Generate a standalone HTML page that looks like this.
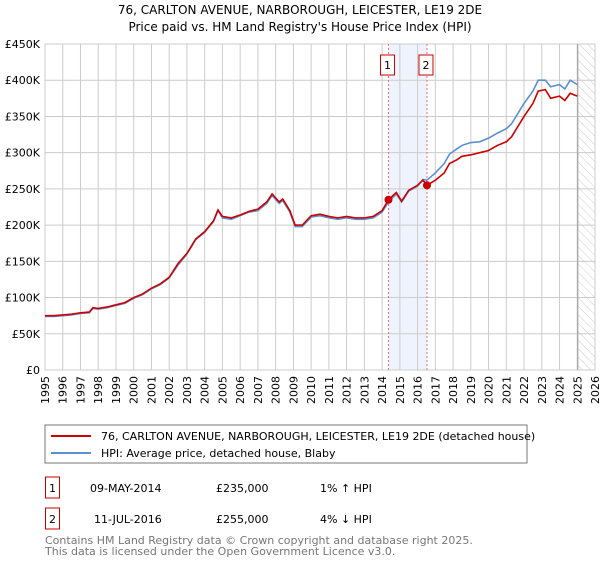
<!DOCTYPE html>
<html><head><meta charset="utf-8"><style>
body{margin:0;background:#fff;font-family:"Liberation Sans","DejaVu Sans",sans-serif;}
svg text{font-family:"DejaVu Sans","Liberation Sans",sans-serif;}
</style></head><body>
<svg id="c" width="600" height="560" xmlns="http://www.w3.org/2000/svg">
<defs><pattern id="hatch" width="6" height="6" patternUnits="userSpaceOnUse" patternTransform="rotate(-45)"><line x1="0" y1="0" x2="0" y2="6" stroke="#ccc" stroke-width="1"/></pattern></defs>
<text x="300" y="14" text-anchor="middle" font-size="12" fill="#000">76, CARLTON AVENUE, NARBOROUGH, LEICESTER, LE19 2DE</text>
<text x="300" y="31" text-anchor="middle" font-size="12" fill="#000">Price paid vs. HM Land Registry's House Price Index (HPI)</text>
<g id="grid"></g><g id="marks"></g><g id="axes"></g>
<rect x="45" y="425" width="482" height="38" fill="#fff" stroke="#777"/>
<line x1="51" y1="436" x2="91" y2="436" stroke="#cc0000" stroke-width="2"/>
<text x="101" y="440" font-size="11">76, CARLTON AVENUE, NARBOROUGH, LEICESTER, LE19 2DE (detached house)</text>
<line x1="51" y1="453" x2="91" y2="453" stroke="#5b8fd4" stroke-width="2"/>
<text x="101" y="457" font-size="11">HPI: Average price, detached house, Blaby</text>
<g font-size="11" fill="#000">
<rect x="45.5" y="477" width="14" height="21" fill="none" stroke="#cc0000"/>
<text x="52.5" y="492" text-anchor="middle">1</text>
<text x="90" y="492">09-MAY-2014</text>
<text x="216" y="492">£235,000</text>
<text x="320" y="492">1% ↑ HPI</text>
<rect x="45.5" y="508" width="14" height="21" fill="none" stroke="#cc0000"/>
<text x="52.5" y="523" text-anchor="middle">2</text>
<text x="94" y="523">11-JUL-2016</text>
<text x="216" y="523">£255,000</text>
<text x="320" y="523">4% ↓ HPI</text>
</g>
<text x="45" y="544" font-size="11" fill="#777">Contains HM Land Registry data © Crown copyright and database right 2025.</text>
<text x="45" y="555" font-size="11" fill="#777">This data is licensed under the Open Government Licence v3.0.</text>
</svg>
<script>
const yTicks=[0,50000,100000,150000,200000,250000,300000,350000,400000,450000];
const yTickLabels=["£0","£50K","£100K","£150K","£200K","£250K","£300K","£350K","£400K","£450K"];
const years=[1995,1996,1997,1998,1999,2000,2001,2002,2003,2004,2005,2006,2007,2008,2009,2010,2011,2012,2013,2014,2015,2016,2017,2018,2019,2020,2021,2022,2023,2024,2025,2026];
const hpiT=[1995,1995.5,1996,1996.5,1997,1997.5,1997.7,1998,1998.5,1999,1999.5,2000,2000.5,2001,2001.5,2002,2002.5,2003,2003.5,2004,2004.5,2004.75,2005,2005.5,2006,2006.5,2007,2007.5,2007.8,2008.2,2008.4,2008.8,2009.1,2009.5,2010,2010.5,2011,2011.5,2012,2012.5,2013,2013.5,2014,2014.36,2014.8,2015.1,2015.5,2016,2016.3,2016.53,2017,2017.5,2017.8,2018.2,2018.5,2019,2019.5,2020,2020.5,2021,2021.3,2021.5,2022,2022.5,2022.8,2023.2,2023.5,2024,2024.3,2024.6,2025];
const hpiV=[74,74,75,76,78,79,85,84,86,89,92,99,104,112,118,127,145,160,180,190,205,220,210,208,213,218,220,230,241,230,234,218,198,198,211,213,210,208,210,208,208,210,218,232,243,232,247,254,263,262,272,285,298,305,310,314,315,320,327,333,340,348,368,385,400,400,391,394,388,400,394];
const propT=[1995,1995.5,1996,1996.5,1997,1997.5,1997.7,1998,1998.5,1999,1999.5,2000,2000.5,2001,2001.5,2002,2002.5,2003,2003.5,2004,2004.5,2004.75,2005,2005.5,2006,2006.5,2007,2007.5,2007.8,2008.2,2008.4,2008.8,2009.1,2009.5,2010,2010.5,2011,2011.5,2012,2012.5,2013,2013.5,2014,2014.36,2014.8,2015.1,2015.5,2016,2016.3,2016.53,2017,2017.5,2017.8,2018.2,2018.5,2019,2019.5,2020,2020.5,2021,2021.3,2021.5,2022,2022.5,2022.8,2023.2,2023.5,2024,2024.3,2024.6,2025];
const propV=[75,75,76,77,79,80,86,85,87,90,93,100,105,113,119,128,147,161,181,191,206,221,212,210,214,219,222,232,243,232,236,220,200,200,213,215,212,210,212,210,210,212,220,235,245,233,248,255,262,255,262,272,285,290,295,297,300,303,310,315,322,330,350,368,385,387,375,378,372,382,378];
const saleT=[2014.36,2016.53];
const saleV=[235000,255000];
const X0=45,X1=595,Y0=370,Y1=44;
const sx=t=>X0+(t-1995)/(2026-1995)*(X1-X0);
const sy=v=>Y0-v/450000*(Y0-Y1);
const NS="http://www.w3.org/2000/svg";
function mk(tag,attrs,parent){const e=document.createElementNS(NS,tag);for(const k in attrs)e.setAttribute(k,attrs[k]);document.getElementById(parent).appendChild(e);return e;}
let e;
e=mk('rect',{x:sx(saleT[0]),y:Y1,width:sx(saleT[1])-sx(saleT[0]),height:Y0-Y1,fill:'#eef3fd'},'grid');


e=mk('rect',{x:sx(2025.03),y:Y1,width:X1-sx(2025.03),height:Y0-Y1,fill:'url(#hatch)'},'grid');


years.forEach((y,i)=>{
 e=mk('line',{x1:sx(y),x2:sx(y),y1:Y1,y2:Y0,stroke:'#ccc'},'grid');
 
 
 e=mk('text',{x:0,y:0,'font-size':11,'text-anchor':'end',transform:`translate(${sx(y)+4},${Y0+6}) rotate(-90)`},'axes');
 e.textContent=y;
 
 
});
yTicks.forEach((v,i)=>{
 e=mk('line',{x1:X0,x2:X1,y1:sy(v),y2:sy(v),stroke:'#ccc'},'grid');
 
 
 e=mk('text',{x:40,y:sy(v)+4,'font-size':11,'text-anchor':'end'},'axes');
 e.textContent=yTickLabels[i];
 
 
});
e=mk('line',{x1:sx(2025.03),x2:sx(2025.03),y1:Y1,y2:Y0,stroke:'#999'},'grid');


saleT.forEach((t,i)=>{
 e=mk('line',{x1:sx(t),x2:sx(t),y1:Y1,y2:Y0,stroke:'#f07070','stroke-dasharray':'2,2'},'grid');
 
 
 e=mk('rect',{x:sx(t)-8,y:55,width:14,height:20,fill:'#fff',stroke:'#cc0000'},'axes');
 
 
 e=mk('text',{x:sx(t)-1,y:69,'font-size':11,'text-anchor':'middle'},'axes');
 e.textContent=String(i+1);
 
 
});
e=mk('polyline',{points:hpiT.map((t,i)=>sx(t)+','+sy(hpiV[i]*1000)).join(' '),fill:'none',stroke:'#5b8fd4','stroke-width':1.6},'marks');


e=mk('polyline',{points:propT.map((t,i)=>sx(t)+','+sy(propV[i]*1000)).join(' '),fill:'none',stroke:'#cc0000','stroke-width':1.6},'marks');


saleT.forEach((t,i)=>{
 e=mk('circle',{cx:sx(t),cy:sy(saleV[i]),r:4,fill:'#cc0000'},'marks');
 
 
});
</script>
</body></html>
